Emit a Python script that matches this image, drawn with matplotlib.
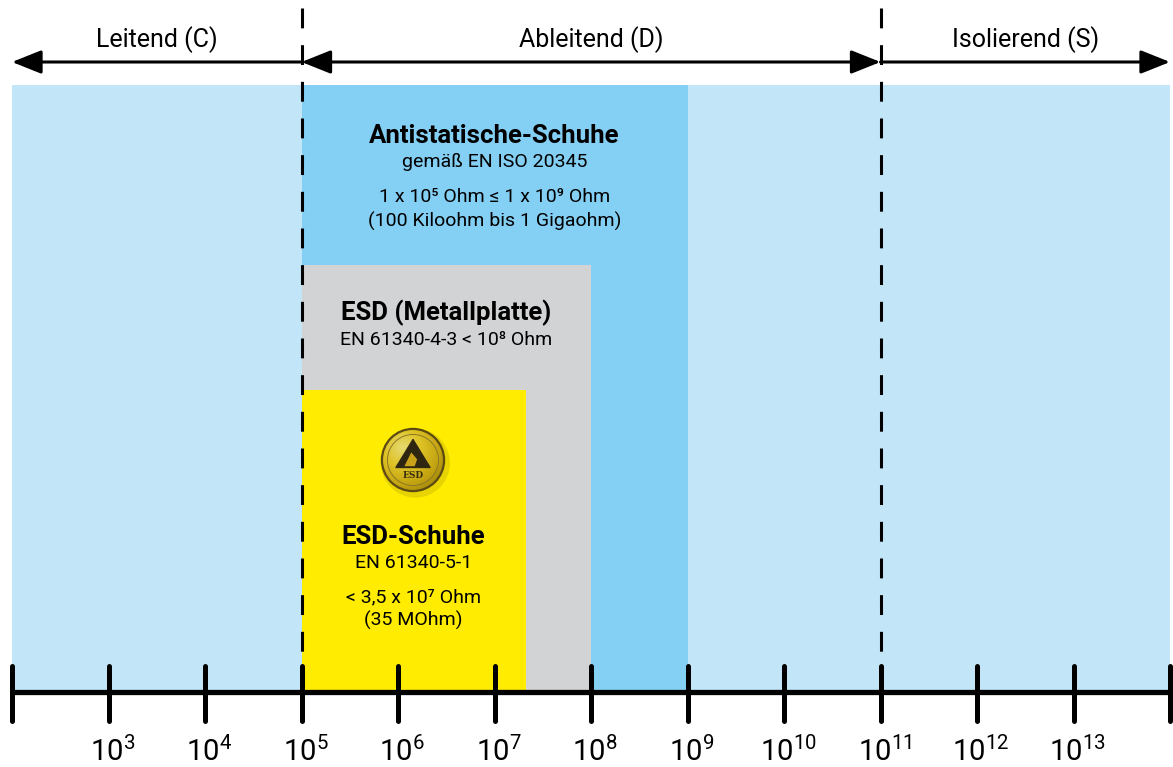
import numpy as np
import matplotlib
matplotlib.use("Agg")
import matplotlib.pyplot as plt
from matplotlib.patches import Circle, Polygon
from matplotlib.colors import LinearSegmentedColormap

plt.rcParams['font.family'] = ['Roboto', 'DejaVu Sans']
plt.rcParams['mathtext.fontset'] = 'custom'
plt.rcParams['mathtext.rm'] = 'Roboto'
plt.rcParams['mathtext.it'] = 'Roboto'

# --- data -------------------------------------------------------------
tick_exps = list(range(2, 15))            # decades 10^2 .. 10^14
label_exps = list(range(3, 14))           # labelled decades
zone_names = ['Leitend (C)', 'Ableitend (D)', 'Isolierend (S)']
zone_edges = [1e2, 1e5, 1e11, 1e14]
zone_heads = ['<|-', '<|-|>', '-|>']

band_names = ['Antistatische-Schuhe', 'ESD (Metallplatte)', 'ESD-Schuhe']
band_low = [1e5, 1e5, 1e5]
band_high = [1e9, 1e8, 2.1e7]
band_lines = [
    ['gemäß EN ISO 20345', '1 x 10⁵ Ohm ≤ 1 x 10⁹ Ohm', '(100 Kiloohm bis 1 Gigaohm)'],
    ['EN 61340-4-3 < 10⁸ Ohm'],
    ['EN 61340-5-1', '< 3,5 x 10⁷ Ohm', '(35 MOhm)'],
]
dividers = [1e5, 1e11]

# --- layout (pixel rows, y axis runs top->bottom) -----------------------
W, H = 1173, 767
band_top = [85, 265, 390]
band_title_y = [136, 313, 537]
band_sub_y = [[162, 197, 221], [340], [563, 597, 620]]
band_colors = ['#84CFF4', '#D1D3D4', '#FFEC00']
bg_color = '#C2E6F8'
axis_y = 692
px_per_dec = 96.5

fig = plt.figure(figsize=(W / 100, H / 100), dpi=100)
ax = fig.add_axes([0, 0, 1, 1])
ax.set_xscale('log')
ax.set_xlim(10 ** (2 - 12 / px_per_dec), 10 ** (14 + 3 / px_per_dec))
ax.set_ylim(H, 0)
ax.axis('off')

# background band
ax.fill_between([zone_edges[0], zone_edges[-1]], 85, axis_y, color=bg_color, lw=0, zorder=1)

# nested bands
for lo, hi, top, c in zip(band_low, band_high, band_top, band_colors):
    ax.fill_between([lo, hi], top, axis_y, color=c, lw=0, zorder=2)

# band texts
for i, name in enumerate(band_names):
    xc = np.sqrt(band_low[i] * band_high[i])
    ax.text(xc, band_title_y[i], name, ha='center', va='center',
            fontsize=18.5, fontweight='bold', zorder=5)
    for line, yy in zip(band_lines[i], band_sub_y[i]):
        ax.text(xc, yy, line, ha='center', va='center', fontsize=14, zorder=5)

# zone arrows + labels
for i, name in enumerate(zone_names):
    x0, x1 = zone_edges[i], zone_edges[i + 1]
    ax.annotate('', xy=(x1, 62), xytext=(x0, 62),
                arrowprops=dict(arrowstyle=zone_heads[i] + ',head_length=1.0,head_width=0.4',
                                mutation_scale=18, lw=2.2, color='black',
                                shrinkA=0, shrinkB=0), zorder=6)
    ax.text(np.sqrt(x0 * x1), 40, name, ha='center', va='center', fontsize=18)

# dashed dividers
for d in dividers:
    ax.plot([d, d], [8, 720], color='black', lw=2.2, ls=(0, (6.5, 5.5)), zorder=7)

# axis line + ticks
ax.plot([zone_edges[0], zone_edges[-1]], [axis_y, axis_y], color='black', lw=3.8,
        solid_capstyle='butt', zorder=8)
ax.vlines([10.0 ** e for e in tick_exps], 666, 721, color='black', lw=3.6,
          capstyle='round', zorder=8)
for e in label_exps:
    ax.text(10.0 ** (e + 4 / px_per_dec), 751, f'$10^{{{e}}}$', ha='center', va='center',
            fontsize=21)

# ESD badge
bcx, bcy, br = 413, 460, 38
bx = fig.add_axes([(bcx - br) / W, 1 - (bcy + br) / H, 2 * br / W, 2 * br / H])
bx.set_xlim(-1.1, 1.1)
bx.set_ylim(-1.1, 1.1)
bx.set_aspect('equal')
bx.axis('off')
bx.add_patch(Circle((0.07, -0.09), 1.0, color='#B8A600', alpha=0.35, lw=0))
yy, xx = np.mgrid[-1:1:200j, -1:1:200j]
rr = np.hypot(xx + 0.3, yy - 0.35)
gold = LinearSegmentedColormap.from_list('gold', ['#FFF6B0', '#F2D23A', '#C9A21A', '#7A6010'])
im = bx.imshow(rr, cmap=gold, extent=(-1, 1, -1, 1), origin='lower', vmin=0, vmax=1.6)
im.set_clip_path(Circle((0, 0), 0.9, transform=bx.transData))
bx.add_patch(Circle((0, 0), 0.9, fill=False, ec='#5C4A12', lw=1.6))
bx.add_patch(Circle((0, 0), 0.74, fill=False, ec='#8C7628', lw=0.7))
bx.add_patch(Polygon([(-0.5, -0.22), (0.0, 0.6), (0.5, -0.22)], closed=True,
                     fc='#2E2610', ec='#2E2610', lw=0.8))
bx.add_patch(Polygon([(-0.25, -0.18), (-0.05, 0.22), (0.12, 0.02), (0.05, -0.18)],
                     closed=True, fc='#C9A21A', lw=0))
bx.text(0, -0.45, 'ESD', ha='center', va='center', fontsize=6.5, fontweight='bold',
        color='#3A2E0C', family='DejaVu Serif')

fig.savefig('out.png', dpi=100)
